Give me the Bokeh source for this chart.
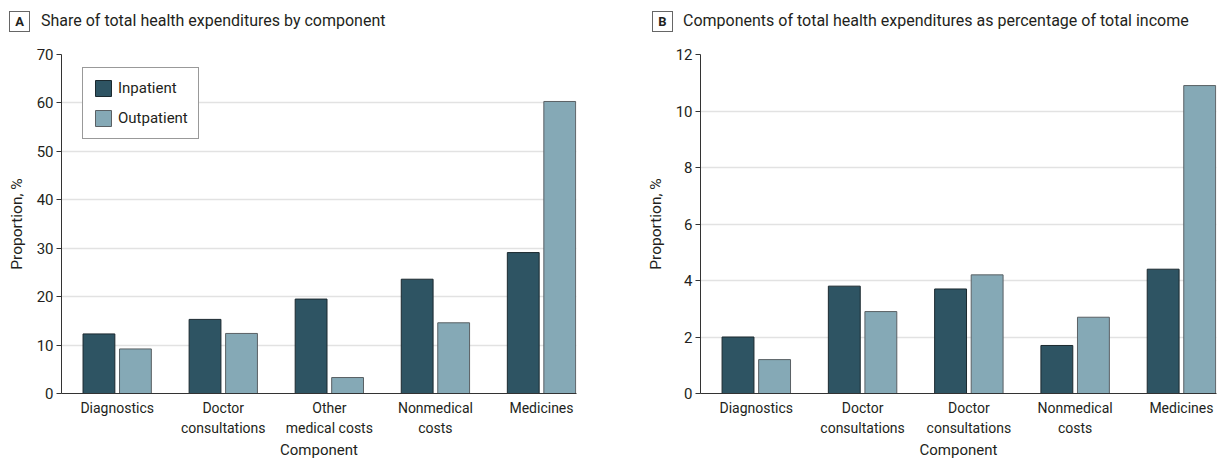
from bokeh.plotting import figure
from bokeh.layouts import row, column
from bokeh.models import Range1d, FixedTicker, ColumnDataSource, Legend, Div
from bokeh.embed import file_html
from bokeh.resources import INLINE

# ---- data ----
categories_a = ["Diagnostics", "Doctor\nconsultations", "Other\nmedical costs", "Nonmedical\ncosts", "Medicines"]
inpatient_a = [12.3, 15.3, 19.5, 23.6, 29.1]
outpatient_a = [9.2, 12.4, 3.3, 14.6, 60.3]

categories_b = ["Diagnostics", "Doctor\nconsultations", "Doctor\nconsultations", "Nonmedical\ncosts", "Medicines"]
inpatient_b = [2.0, 3.8, 3.7, 1.7, 4.4]
outpatient_b = [1.2, 2.9, 4.2, 2.7, 10.9]

series_names = ["Inpatient", "Outpatient"]
yticks_a = [0, 10, 20, 30, 40, 50, 60, 70]
yticks_b = [0, 2, 4, 6, 8, 10, 12]
title_a = "Share of total health expenditures by component"
title_b = "Components of total health expenditures as percentage of total income"

FONT = "Roboto"
TXT = "#231f20"
IN_FILL, IN_LINE = "#2e5463", "#1b292f"
OUT_FILL, OUT_LINE = "#85a9b6", "#5a6064"
OFF, BW = 0.172, 0.30
DIV_H = 40
TOP = 14
FRAME_H = 339
BOTTOM = 68
FIG_H = TOP + FRAME_H + BOTTOM


def title_div(letter, text, width, left, gap):
    html = (
        f'<div style="position:relative; top:11px; left:{left}px; height:20px; font-family:Roboto, sans-serif; '
        f'color:{TXT}; display:flex; align-items:center;">'
        f'<span style="display:inline-block; box-sizing:border-box; width:21px; height:21px; '
        f'border:1px solid #666; text-align:center; font-weight:bold; font-size:13px; line-height:19px;">{letter}</span>'
        f'<span style="margin-left:{gap}px; font-size:16px; white-space:nowrap;">{text}</span></div>'
    )
    return Div(text=html, width=width, height=DIV_H, margin=0, styles={"overflow": "hidden"})


def make_panel(cats, inp, outp, yticks, width, border_left, border_right, legend):
    n = len(cats)
    xs = list(range(n))
    src = ColumnDataSource(dict(x_in=[x - OFF for x in xs], x_out=[x + OFF for x in xs], inp=inp, outp=outp))
    p = figure(width=width, height=FIG_H, output_backend="svg", toolbar_location=None, title=None,
               x_range=Range1d(-0.525, 4.33), y_range=Range1d(yticks[0], yticks[-1]),
               min_border_left=border_left, min_border_right=border_right,
               min_border_top=TOP, min_border_bottom=BOTTOM, margin=0)
    p.outline_line_color = None
    r1 = p.vbar(x="x_in", top="inp", width=BW, source=src, fill_color=IN_FILL, line_color=IN_LINE, line_width=1)
    r2 = p.vbar(x="x_out", top="outp", width=BW, source=src, fill_color=OUT_FILL, line_color=OUT_LINE, line_width=1)

    p.xgrid.grid_line_color = None
    p.ygrid.grid_line_color = "#e2e2e2"
    p.ygrid.grid_line_width = 1.5
    p.ygrid.ticker = FixedTicker(ticks=yticks)

    xa = p.xaxis[0]
    xa.ticker = FixedTicker(ticks=xs)
    xa.major_label_overrides = {i: c for i, c in enumerate(cats)}
    xa.major_tick_line_color = None
    xa.major_tick_out = 0
    xa.major_tick_in = 0
    xa.minor_tick_line_color = None
    xa.axis_line_color = "#333333"
    xa.axis_line_width = 1.2
    xa.major_label_text_font = FONT
    xa.major_label_text_font_size = "14px"
    xa.major_label_text_color = TXT
    xa.major_label_text_line_height = 1.25
    xa.major_label_standoff = 6
    xa.axis_label = "Component"
    xa.axis_label_text_font = FONT
    xa.axis_label_text_font_size = "15px"
    xa.axis_label_text_font_style = "normal"
    xa.axis_label_text_color = TXT
    xa.axis_label_standoff = 2

    ya = p.yaxis[0]
    ya.ticker = FixedTicker(ticks=yticks)
    ya.minor_tick_line_color = None
    ya.major_tick_out = 5
    ya.major_tick_in = 0
    ya.major_tick_line_color = "#333333"
    ya.axis_line_color = "#333333"
    ya.major_label_text_font = FONT
    ya.major_label_text_font_size = "15px"
    ya.major_label_text_color = TXT
    ya.major_label_standoff = 3
    ya.axis_label = "Proportion, %"
    ya.axis_label_text_font = FONT
    ya.axis_label_text_font_size = "15.5px"
    ya.axis_label_text_font_style = "normal"
    ya.axis_label_text_color = TXT
    ya.axis_label_standoff = 8

    if legend:
        leg_h = 69
        lg = Legend(items=[(series_names[0], [r1]), (series_names[1], [r2])],
                    location=(21, FRAME_H - 16 - leg_h), orientation="vertical")
        lg.label_text_font = FONT
        lg.label_text_font_size = "15px"
        lg.label_text_color = TXT
        lg.glyph_width = 20
        lg.glyph_height = 20
        lg.label_height = 20
        lg.spacing = 10
        lg.padding = 10
        lg.margin = 0
        lg.label_standoff = 5
        lg.border_line_color = "#333333"
        lg.border_line_width = 1
        lg.background_fill_alpha = 1
        p.add_layout(lg)
    return p


WA, WB = 640, 577
pa = make_panel(categories_a, inpatient_a, outpatient_a, yticks_a, WA, 61, 64, True)
pb = make_panel(categories_b, inpatient_b, outpatient_b, yticks_b, WB, 60, 1, False)

layout = column(
    row(title_div("A", title_a, WA, 9, 11), title_div("B", title_b, WB, 12, 10), spacing=0, margin=0),
    row(pa, pb, spacing=0, margin=0),
    spacing=0, margin=0,
)
open("out.html", "w").write(file_html(layout, INLINE))
